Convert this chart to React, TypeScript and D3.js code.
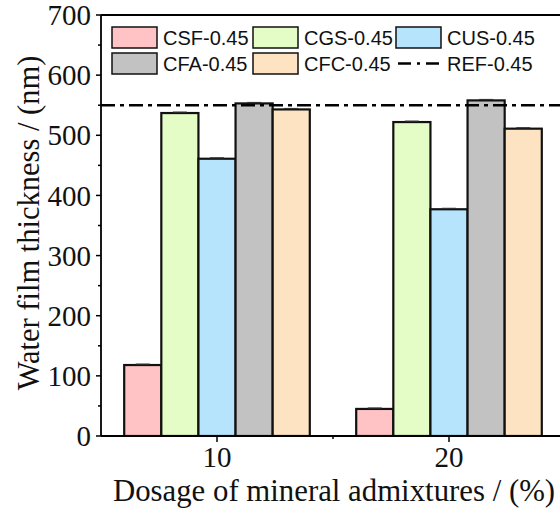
import React from "react";
import * as d3 from "d3";

// Dosage groups (%) and series
const dosages = [10, 20];
const seriesNames = ["CSF-0.45", "CGS-0.45", "CUS-0.45", "CFA-0.45", "CFC-0.45"];
const seriesColors = ["#ffc3c5", "#e4fcc6", "#b5e4fc", "#c2c2c2", "#fde3c1"];
const csf = [118, 45];
const cgs = [537, 522];
const cus = [461, 377];
const cfa = [553, 558];
const cfc = [543, 511];
const errors = [1.5, 1.5];
const refLabel = "REF-0.45";
const refValue = 550;
const yTicks = [0, 100, 200, 300, 400, 500, 600, 700];
const yMinorTicks = [50, 150, 250, 350, 450, 550, 650];
const xMinorTicks = [15, 25];

const W = 560;
const H = 510;
const left = 101;
const top = 15;
const bottom = 436;
const right = 565;

export default function App() {
  const x = d3.scaleLinear().domain([5, 25]).range([left, right]);
  const y = d3.scaleLinear().domain([0, 700]).range([bottom, top]);
  const series = [csf, cgs, cus, cfa, cfc];
  const barUnits = 1.6;

  const serif = "'Liberation Serif', 'Times New Roman', serif";
  const sans = "'Liberation Sans', Arial, sans-serif";

  const legendCols = [112, 253, 396];
  const legendRows = [27, 53];
  const legendItems = [
    ...seriesNames.map((n, i) => ({ name: n, color: seriesColors[i], line: false })),
    { name: refLabel, color: "none", line: true },
  ];

  return (
    <svg
      width={W}
      height={H}
      style={{ position: "absolute", left: 0, top: 0, background: "#fff" }}
    >
      <defs>
        <clipPath id="plot">
          <rect x={left} y={top - 5} width={right - left} height={bottom - top + 5} />
        </clipPath>
      </defs>

      {/* bars */}
      <g clipPath="url(#plot)">
        {dosages.map((d, gi) =>
          series.map((vals, si) => {
            const x0 = x(d - (barUnits * series.length) / 2 + barUnits * si);
            const x1 = x(d - (barUnits * series.length) / 2 + barUnits * (si + 1));
            const v = vals[gi];
            const cx = (x0 + x1) / 2;
            return (
              <g key={`${gi}-${si}`}>
                <rect
                  x={x0}
                  y={y(v)}
                  width={x1 - x0}
                  height={y(0) - y(v)}
                  fill={seriesColors[si]}
                  stroke="#111"
                  strokeWidth={2.2}
                />
                <line
                  x1={cx - 7}
                  x2={cx + 7}
                  y1={y(v + errors[gi])}
                  y2={y(v + errors[gi])}
                  stroke="#333"
                  strokeWidth={1.2}
                />
              </g>
            );
          })
        )}
        {/* reference line */}
        <line
          x1={left}
          x2={right}
          y1={y(refValue)}
          y2={y(refValue)}
          stroke="#000"
          strokeWidth={2.5}
          strokeDasharray="14,5,4,5"
        />
      </g>

      {/* frame */}
      <line x1={left} x2={left} y1={top} y2={bottom} stroke="#000" strokeWidth={1.8} />
      <line x1={left} x2={right} y1={bottom} y2={bottom} stroke="#000" strokeWidth={1.8} />
      <line x1={left} x2={right} y1={top} y2={top} stroke="#000" strokeWidth={1.8} />

      {/* y ticks */}
      {yTicks.map((t) => (
        <g key={`y${t}`}>
          <line x1={left - 5} x2={left} y1={y(t)} y2={y(t)} stroke="#000" strokeWidth={1.5} />
          <text
            x={left - 10}
            y={y(t)}
            dy="0.35em"
            textAnchor="end"
            fontFamily={serif}
            fontSize={29}
            fill="#111"
          >
            {t}
          </text>
        </g>
      ))}
      {yMinorTicks.map((t) => (
        <line key={`ym${t}`} x1={left - 3} x2={left} y1={y(t)} y2={y(t)} stroke="#000" strokeWidth={1.5} />
      ))}

      {/* x ticks */}
      {dosages.map((d) => (
        <g key={`x${d}`}>
          <line x1={x(d)} x2={x(d)} y1={bottom} y2={bottom + 6} stroke="#000" strokeWidth={1.5} />
          <text x={x(d)} y={467} textAnchor="middle" fontFamily={serif} fontSize={29} fill="#111">
            {d}
          </text>
        </g>
      ))}
      {xMinorTicks.map((d) => (
        <line key={`xm${d}`} x1={x(d)} x2={x(d)} y1={bottom} y2={bottom + 3} stroke="#000" strokeWidth={1.5} />
      ))}

      {/* axis titles */}
      <text
        x={334}
        y={501}
        textAnchor="middle"
        fontFamily={serif}
        fontSize={30.8}
        fill="#111"
      >
        Dosage of mineral admixtures / (%)
      </text>
      <text
        transform={`translate(39,223) rotate(-90)`}
        textAnchor="middle"
        fontFamily={serif}
        fontSize={30.5}
        fill="#111"
      >
        Water film thickness / (nm)
      </text>

      {/* legend */}
      {legendItems.map((item, i) => {
        const col = i % 3;
        const row = Math.floor(i / 3);
        const lx = legendCols[col];
        const ly = legendRows[row];
        return (
          <g key={item.name}>
            {item.line ? (
              <line
                x1={lx + 2}
                x2={lx + 47}
                y1={ly + 10.5}
                y2={ly + 10.5}
                stroke="#000"
                strokeWidth={2.5}
                strokeDasharray="13,6,3,6"
              />
            ) : (
              <rect
                x={lx}
                y={ly}
                width={45}
                height={21}
                fill={item.color}
                stroke="#111"
                strokeWidth={1.5}
              />
            )}
            <text
              x={lx + 51}
              y={ly + 18}
              fontFamily={sans}
              fontSize={20}
              fill="#111"
            >
              {item.name}
            </text>
          </g>
        );
      })}
    </svg>
  );
}
